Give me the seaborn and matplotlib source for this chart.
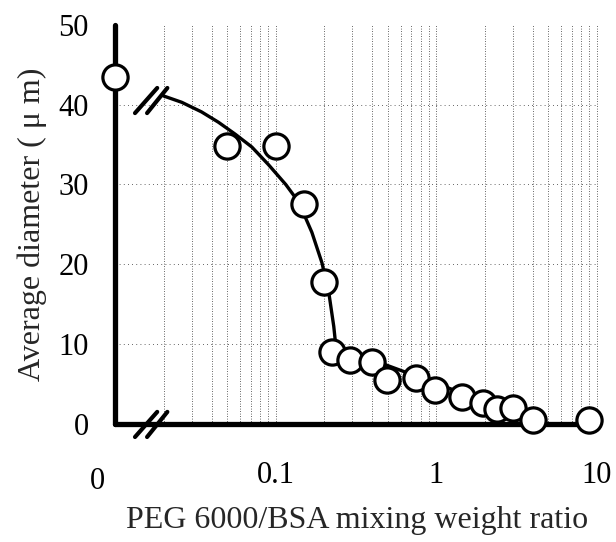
import numpy as np
import pandas as pd
import matplotlib
matplotlib.use("Agg")
import matplotlib.pyplot as plt
import matplotlib.transforms as mtrans
import seaborn as sns

sns.set_style("white")
plt.rcParams['font.family'] = ['Liberation Serif', 'DejaVu Serif']

# measured points (0 means "no PEG", drawn on the broken axis)
ratio = [0, 0.05, 0.1, 0.15, 0.2, 0.225, 0.29, 0.4, 0.49, 0.75, 0.98, 1.45, 1.95, 2.4, 3.0, 4.0, 9.0]
diameter = [43.5, 34.8, 34.8, 27.5, 17.8, 9.0, 8.0, 7.8, 5.5, 5.8, 4.3, 3.4, 2.6, 1.8, 2.0, 0.5, 0.5]

# fitted curve
curve_x = [0.02, 0.026, 0.0345, 0.044, 0.056, 0.071, 0.09, 0.1155, 0.139, 0.168,
           0.194, 0.214, 0.23, 0.237, 3.8]
curve_y = [41.1, 40.3, 39.1, 37.8, 36.3, 34.7, 32.5, 30.0, 27.8, 24.0,
           20.2, 16.5, 12.2, 9.7, 0.75]

x_left = 0.01
x_right = 10.2

pts = pd.DataFrame({"ratio": [r if r > 0 else x_left for r in ratio], "diameter": diameter})
fit = pd.DataFrame({"ratio": curve_x, "diameter": curve_y})

fig = plt.figure(figsize=(6.16, 5.42), dpi=100)
ax = fig.add_axes([0.187, 0.218, 0.784, 0.736])

ax.set_xscale("log")
ax.set_xlim(x_left, x_right)
ax.set_ylim(0, 50)

# dotted grid
for dec in [0.01, 0.1, 1]:
    for m in range(1, 10):
        gx = dec * m
        if 0.02 <= gx <= 10:
            ax.axvline(gx, color="#333333", lw=0.6, ls=(0, (1, 2)), zorder=0)
ax.axvline(10, color="#333333", lw=0.6, ls=(0, (1, 2)), zorder=0)
for gy in [10, 20, 30, 40]:
    ax.axhline(gy, color="#333333", lw=0.6, ls=(0, (1, 4)), zorder=0)

sns.lineplot(data=fit, x="ratio", y="diameter", ax=ax, color="black", lw=2.4,
             sort=False, zorder=2)
sns.scatterplot(data=pts, x="ratio", y="diameter", ax=ax, s=330, marker="o",
                facecolor="white", edgecolor="black", linewidth=2.3, zorder=3,
                clip_on=False)

for s in ["top", "right"]:
    ax.spines[s].set_visible(False)
for s in ["left", "bottom"]:
    ax.spines[s].set_linewidth(3.8)
    ax.spines[s].set_color("black")
    ax.spines[s].set_capstyle("round")

ax.set_yticks([0, 10, 20, 30, 40, 50])
ax.set_xticks([x_left, 0.1, 1, 10])
ax.set_xticklabels(["0", "0.1", "1", "10"])
ax.xaxis.set_minor_locator(matplotlib.ticker.NullLocator())
ax.tick_params(axis="both", direction="in", length=6, width=4, labelsize=22,
               colors="black")
ax.tick_params(axis="x", pad=27)
ax.tick_params(axis="y", pad=19)
xt = ax.get_xticklines()
xt[0].set_visible(False)
xt[-2].set_visible(False)
lab0 = ax.get_xticklabels()[0]
lab0.set_transform(lab0.get_transform() + mtrans.ScaledTranslation(-0.18, -0.06, fig.dpi_scale_trans))

# axis break marks
for x0, x1 in [(0.041, 0.087), (0.066, 0.108)]:
    ax.plot([x0, x1], [0.779, 0.842], transform=ax.transAxes,
            color="black", lw=3, clip_on=False, zorder=4)
    ax.plot([x0, x1], [-0.033, 0.030], transform=ax.transAxes,
            color="black", lw=3, clip_on=False, zorder=4)

ax.set_xlabel("PEG 6000/BSA mixing weight ratio", fontsize=23, labelpad=7)
ax.set_ylabel("Average diameter ( \u03bc m)", fontsize=23, labelpad=8)

fig.savefig("out.png", dpi=100)
